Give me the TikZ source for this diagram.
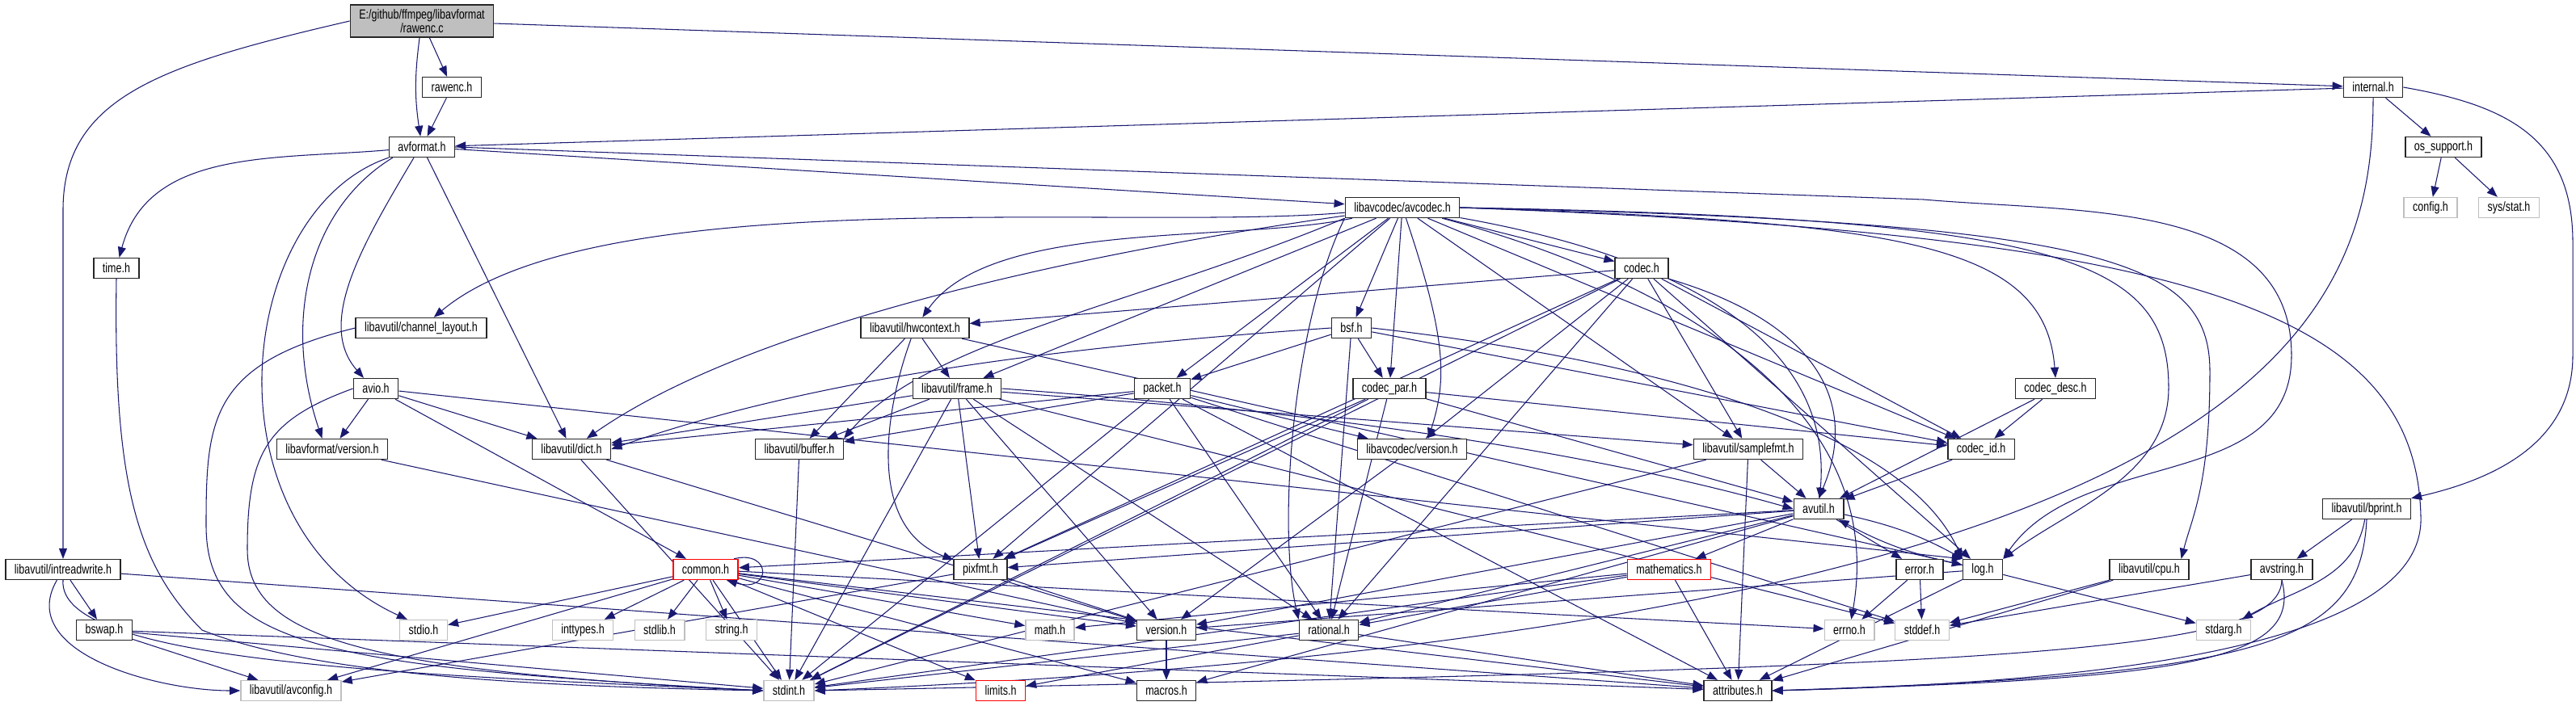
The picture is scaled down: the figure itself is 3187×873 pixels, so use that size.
\documentclass[tikz,border=0pt]{standalone}
\usepackage{fontspec}
\setmainfont{Liberation Sans}[FakeStretch=0.765]
\usetikzlibrary{arrows.meta, backgrounds}
\definecolor{edgeBlue}{HTML}{191970}
\definecolor{sysGray}{HTML}{BFBFBF}
\definecolor{cutRed}{HTML}{FF0000}
\tikzset{
  hdr/.style={draw=black!85, line width=0.8pt, fill=white, minimum height=0.5cm,
              inner xsep=0.22cm, inner ysep=0pt, font=\fontsize{9.3}{8.6}\selectfont},
  sysHdr/.style={hdr, draw=sysGray},
  cutHdr/.style={hdr, draw=cutRed},
  srcFile/.style={hdr, fill=sysGray, align=center, minimum height=0.8cm},
  inc/.style={draw=edgeBlue, line width=0.6pt, -{Triangle[length=0.26cm, width=0.2cm]}},
}
\begin{document}
\begin{tikzpicture}[x=0.02cm, y=0.02cm]
\useasboundingbox (0,0) rectangle (3187,-873);
% files, rank by rank
\node[srcFile] (rawencC) at (522,-26) {E:/github/ffmpeg/libavformat\\/rawenc.c};
\node[hdr] (rawencH) at (559,-108) {rawenc.h};
\node[hdr] (internalH) at (2936,-108) {internal.h};
\node[hdr] (avformatH) at (522,-182) {avformat.h};
\node[hdr] (osSupportH) at (3023,-182) {os\_support.h};
\node[sysHdr] (configH) at (3007,-257) {config.h};
\node[sysHdr] (sysStatH) at (3104,-257) {sys/stat.h};
\node[hdr] (avcodecH) at (1735,-257) {libavcodec/avcodec.h};
\node[hdr] (timeH) at (144,-332) {time.h};
\node[hdr] (codecH) at (2031,-332) {codec.h};
\node[hdr] (channelLayoutH) at (521,-406) {libavutil/channel\_layout.h};
\node[hdr] (hwcontextH) at (1132,-406) {libavutil/hwcontext.h};
\node[hdr] (bsfH) at (1672,-406) {bsf.h};
\node[hdr] (avioH) at (465,-481) {avio.h};
\node[hdr] (frameH) at (1184,-481) {libavutil/frame.h};
\node[hdr] (packetH) at (1438,-481) {packet.h};
\node[hdr] (codecParH) at (1719,-481) {codec\_par.h};
\node[hdr] (codecDescH) at (2543,-481) {codec\_desc.h};
\node[hdr] (lavfVersionH) at (411,-556) {libavformat/version.h};
\node[hdr] (dictH) at (707,-556) {libavutil/dict.h};
\node[hdr] (bufferH) at (989,-556) {libavutil/buffer.h};
\node[hdr] (lavcVersionH) at (1747,-556) {libavcodec/version.h};
\node[hdr] (samplefmtH) at (2163,-556) {libavutil/samplefmt.h};
\node[hdr] (codecIdH) at (2451,-556) {codec\_id.h};
\node[hdr] (avutilH) at (2250,-630) {avutil.h};
\node[hdr] (bprintH) at (2928,-630) {libavutil/bprint.h};
\node[hdr] (intreadwriteH) at (78,-705) {libavutil/intreadwrite.h};
\node[cutHdr] (commonH) at (873,-705) {common.h};
\node[hdr] (pixfmtH) at (1213,-705) {pixfmt.h};
\node[cutHdr] (mathematicsH) at (2065,-705) {mathematics.h};
\node[hdr] (errorH) at (2375,-705) {error.h};
\node[hdr] (logH) at (2453,-705) {log.h};
\node[hdr] (cpuH) at (2659,-705) {libavutil/cpu.h};
\node[hdr] (avstringH) at (2823,-705) {avstring.h};
\node[hdr] (bswapH) at (129,-780) {bswap.h};
\node[sysHdr] (stdioH) at (524,-780) {stdio.h};
\node[sysHdr] (inttypesH) at (721,-780) {inttypes.h};
\node[sysHdr] (stdlibH) at (816,-780) {stdlib.h};
\node[sysHdr] (stringH) at (905,-780) {string.h};
\node[sysHdr] (mathH) at (1299,-780) {math.h};
\node[hdr] (versionH) at (1443,-780) {version.h};
\node[hdr] (rationalH) at (1644,-780) {rational.h};
\node[sysHdr] (errnoH) at (2288,-780) {errno.h};
\node[sysHdr] (stddefH) at (2378,-780) {stddef.h};
\node[sysHdr] (stdargH) at (2751,-780) {stdarg.h};
\node[sysHdr] (avconfigH) at (360,-855) {libavutil/avconfig.h};
\node[sysHdr] (stdintH) at (976,-855) {stdint.h};
\node[cutHdr] (limitsH) at (1238,-855) {limits.h};
\node[hdr] (macrosH) at (1443,-855) {macros.h};
\node[hdr] (attributesH) at (2150,-855) {attributes.h};

\begin{pgfonlayer}{background}
% rawenc.c
\draw[inc] (rawencC) -- (rawencH);
\draw[inc] (rawencC) to[bend right=8] (avformatH);
\draw[inc] (rawencC) -- (internalH);
\draw[inc] (rawencC.west) .. controls (200,-80) and (78,-120) .. (78,-260) -- (intreadwriteH.north);
\draw[inc] (rawencH) -- (avformatH);
% internal.h
\draw[inc] (internalH) -- (avformatH);
\draw[inc] (internalH) -- (osSupportH);
\draw[inc] (internalH.east) .. controls (3100,-130) and (3183,-170) .. (3183,-300) -- (3183,-440) .. controls (3183,-540) and (3100,-590) .. (bprintH.north east);
\draw[inc] (internalH.south) .. controls (2936,-400) and (2800,-780) .. (stdintH.east);
\draw[inc] (osSupportH) -- (configH);
\draw[inc] (osSupportH) -- (sysStatH);
% avformat.h
\draw[inc] (avformatH) to[out=185,in=75] (timeH);
\draw[inc] (avformatH.south west) .. controls (290,-260) and (250,-650) .. ([xshift=0.2cm]stdioH.north west);
\draw[inc] ([xshift=0.1cm]avformatH.south west) .. controls (380,-260) and (350,-400) .. ([xshift=-0.25cm]lavfVersionH.north);
\draw[inc] ([xshift=-0.2cm]avformatH.south) .. controls (450,-300) and (390,-400) .. ([xshift=-0.3cm]avioH.north);
\draw[inc] (avformatH) -- (dictH);
\draw[inc] (avformatH) -- (avcodecH);
\draw[inc] (avformatH.east) -- (2380,-247) to[out=-5,in=90] (2835,-440) to[out=-90,in=55] (logH.north east);
\draw[inc] (timeH.south) .. controls (140,-600) and (170,-700) .. (250,-780) .. controls (400,-840) and (700,-850) .. (stdintH.west);
% libavcodec/avcodec.h
\draw[inc] (avcodecH) to[out=185,in=40,looseness=0.6] (channelLayoutH);
\draw[inc] (avcodecH) to[out=192,in=55,looseness=0.7] (hwcontextH);
\draw[inc] (avcodecH) -- (frameH);
\draw[inc] (avcodecH.south west) .. controls (1400,-380) and (1150,-420) .. (bufferH.north east);
\draw[inc] (avcodecH) to[out=188,in=35,looseness=0.7] (dictH);
\draw[inc] (avcodecH) -- (bsfH);
\draw[inc] (avcodecH) -- (packetH);
\draw[inc] (avcodecH) -- (codecParH);
\draw[inc] (avcodecH) .. controls (1790,-420) and (1790,-470) .. ([xshift=0.4cm]lavcVersionH.north);
\draw[inc] (avcodecH) -- (pixfmtH);
\draw[inc] (avcodecH.south west) .. controls (1600,-400) and (1580,-650) .. (rationalH.north west);
\draw[inc] (avcodecH) -- (codecH);
\draw[inc] (avcodecH) -- (samplefmtH);
\draw[inc] (avcodecH) to[out=-10,in=85] (avutilH);
\draw[inc] (avcodecH) to[out=-15,in=80] (errnoH);
\draw[inc] (avcodecH) -- (codecIdH);
\draw[inc] (avcodecH.east) .. controls (2350,-275) and (2530,-300) .. (codecDescH.north);
\draw[inc] (avcodecH.east) .. controls (2550,-270) and (2683,-320) .. (2683,-480) .. controls (2683,-590) and (2560,-630) .. (logH.north east);
\draw[inc] (avcodecH.east) .. controls (2600,-275) and (2734,-320) .. (2734,-460) .. controls (2734,-600) and (2712,-640) .. ([xshift=-0.2cm]cpuH.north east);
\draw[inc] (avcodecH.east) .. controls (2700,-290) and (2990,-380) .. (2995,-640) .. controls (3000,-800) and (2600,-845) .. (attributesH.east);
% bsf.h
\draw[inc] (bsfH.west) .. controls (1300,-430) and (1000,-470) .. (dictH.east);
\draw[inc] (bsfH) -- (packetH);
\draw[inc] (bsfH) -- (codecParH);
\draw[inc] (bsfH) -- (codecIdH);
\draw[inc] (bsfH.east) .. controls (2000,-440) and (2350,-520) .. (logH.north west);
\draw[inc] (bsfH) -- (rationalH);
% codec.h
\draw[inc] (codecH) -- (hwcontextH);
\draw[inc] (codecH) -- (lavcVersionH);
\draw[inc] (codecH) -- (samplefmtH);
\draw[inc] (codecH.south east) .. controls (2250,-400) and (2300,-500) .. (avutilH.north);
\draw[inc] (codecH) -- (codecIdH);
\draw[inc] (codecH) -- (logH);
\draw[inc] (codecH) -- (pixfmtH);
\draw[inc] (codecH) -- (rationalH);
\draw[inc] (codecH) -- (stdintH);
% codec_desc.h, codec_id.h, codec_par.h
\draw[inc] (codecDescH) -- (avutilH);
\draw[inc] (codecDescH) -- (codecIdH);
\draw[inc] (codecIdH) -- (avutilH);
\draw[inc] (codecParH) -- (stdintH);
\draw[inc] (codecParH) -- (avutilH);
\draw[inc] (codecParH) -- (rationalH);
\draw[inc] (codecParH) -- (pixfmtH);
\draw[inc] (codecParH) -- (codecIdH);
% packet.h
\draw[inc] (packetH) -- (stddefH);
\draw[inc] (packetH) -- (stdintH);
\draw[inc] (packetH) -- (attributesH);
\draw[inc] (packetH) -- (bufferH);
\draw[inc] (packetH) -- (dictH);
\draw[inc] (packetH) -- (rationalH);
\draw[inc] (packetH) -- (lavcVersionH);
% version headers
\draw[inc] (lavcVersionH) -- (versionH);
\draw[inc] (lavfVersionH) -- (versionH);
% avio.h
\draw[inc] (avioH.west) .. controls (330,-520) and (306,-560) .. (306,-680) .. controls (306,-790) and (450,-830) .. (stdintH.west);
\draw[inc] (avioH) -- (commonH);
\draw[inc] (avioH) -- (dictH);
\draw[inc] (avioH) -- (logH.north west);
\draw[inc] (avioH) -- (lavfVersionH);
% libavutil
\draw[inc] (dictH) -- (stdintH);
\draw[inc] (dictH) -- (versionH);
\draw[inc] (channelLayoutH.west) .. controls (260,-450) and (255,-520) .. (255,-650) .. controls (255,-800) and (400,-825) .. (stdintH.west);
\draw[inc] (hwcontextH) -- (bufferH);
\draw[inc] (hwcontextH) -- (frameH);
\draw[inc] (hwcontextH) -- (logH);
\draw[inc] (hwcontextH) to[out=-110,in=160] (pixfmtH);
\draw[inc] (frameH) -- (stddefH);
\draw[inc] (frameH) -- (stdintH);
\draw[inc] (frameH.east) .. controls (1500,-500) and (1900,-540) .. (avutilH.west);
\draw[inc] (frameH) -- (bufferH);
\draw[inc] (frameH) -- (dictH);
\draw[inc] (frameH) -- (rationalH);
\draw[inc] (frameH) -- (samplefmtH);
\draw[inc] (frameH) -- (pixfmtH);
\draw[inc] (frameH) -- (versionH);
\draw[inc] (bufferH) -- (stdintH);
\draw[inc] (samplefmtH) -- (stdintH);
\draw[inc] (samplefmtH) -- (avutilH);
\draw[inc] (samplefmtH) -- (attributesH);
% avutil.h
\draw[inc] (avutilH) -- (commonH);
\draw[inc] (avutilH) -- (errorH);
\draw[inc] (avutilH) -- (rationalH);
\draw[inc] (avutilH) -- (versionH);
\draw[inc] (avutilH) -- (macrosH);
\draw[inc] (avutilH) -- (mathematicsH);
\draw[inc] (avutilH) to[bend left=8] (logH);
\draw[inc] (avutilH) -- (pixfmtH);
% common.h
\draw[inc] (commonH) -- (errnoH);
\draw[inc] (commonH) -- (inttypesH);
\draw[inc] (commonH) -- (limitsH);
\draw[inc] (commonH) -- (mathH);
\draw[inc] (commonH) -- (stdintH);
\draw[inc] (commonH) -- (stdioH);
\draw[inc] (commonH) -- (stdlibH);
\draw[inc] (commonH) -- (stringH);
\draw[inc] (commonH) -- (attributesH);
\draw[inc] (commonH) -- (macrosH);
\draw[inc] (commonH) -- (versionH);
\draw[inc] (commonH) -- (avconfigH);
\draw[inc] ([xshift=-0.12cm]commonH.north east) .. controls (955,-680) and (955,-735) .. ([xshift=-0.3cm]commonH.south east);
% error.h, log.h, mathematics.h, rational.h
\draw[inc] (errorH) -- (errnoH);
\draw[inc] (errorH) -- (stddefH);
\draw[inc] (logH) -- (stdargH);
\draw[inc] (logH) to[bend left=8] (avutilH);
\draw[inc] (logH) -- (attributesH);
\draw[inc] (logH) -- (versionH);
\draw[inc] (mathematicsH) -- (stdintH);
\draw[inc] (mathematicsH) -- (mathH);
\draw[inc] (mathematicsH) -- (attributesH);
\draw[inc] (mathematicsH) -- (rationalH);
\draw[inc] (rationalH) -- (stdintH);
\draw[inc] (rationalH) -- (limitsH);
\draw[inc] (rationalH) -- (attributesH);
\draw[inc] (pixfmtH) -- (avconfigH);
\draw[inc] (pixfmtH) -- (versionH);
\draw[inc] (versionH) -- (macrosH);
% cpu.h, bprint.h, avstring.h
\draw[inc] (cpuH) -- (stddefH);
\draw[inc] (cpuH) -- (attributesH);
\draw[inc] (bprintH) to[out=-100,in=30] (stdargH);
\draw[inc] (bprintH) -- (avstringH);
\draw[inc] (bprintH.south) .. controls (2920,-800) and (2800,-835) .. (attributesH.east);
\draw[inc] (avstringH) -- (stddefH);
\draw[inc] (avstringH.south) .. controls (2820,-810) and (2500,-825) .. (stdintH.east);
\draw[inc] (avstringH.south) .. controls (2850,-820) and (2700,-840) .. (attributesH.east);
% intreadwrite.h, bswap.h
\draw[inc] (intreadwriteH) -- (bswapH);
\draw[inc] (intreadwriteH) to[out=-120,in=180] (avconfigH);
\draw[inc] (intreadwriteH.south) .. controls (70,-820) and (500,-835) .. (stdintH.west);
\draw[inc] (intreadwriteH) -- (attributesH);
\draw[inc] (bswapH) -- (avconfigH);
\draw[inc] (bswapH) -- (stdintH);
\draw[inc] (bswapH) -- (attributesH);
\end{pgfonlayer}
\end{tikzpicture}
\end{document}
